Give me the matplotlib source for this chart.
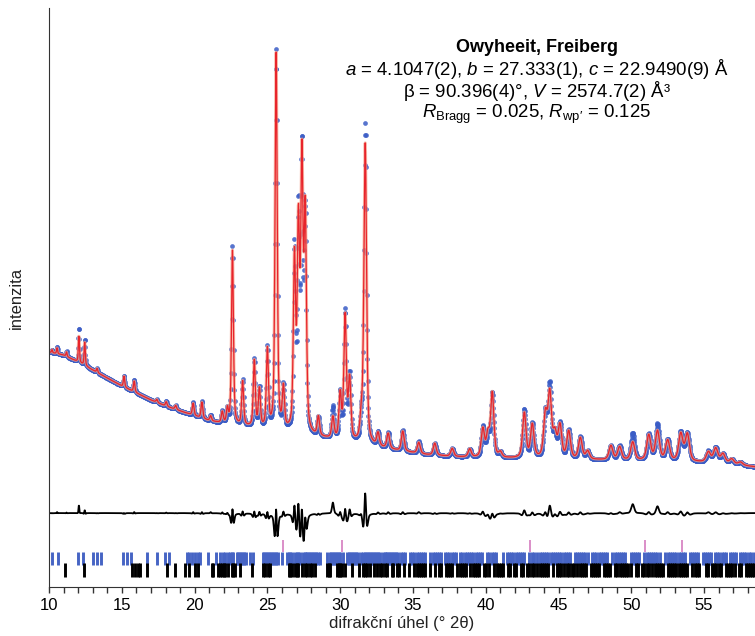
import numpy as np
import matplotlib
matplotlib.use("Agg")
import matplotlib.pyplot as plt
from matplotlib.ticker import MultipleLocator

plt.rcParams['font.family'] = ['Liberation Sans', 'DejaVu Sans']
plt.rcParams['mathtext.fontset'] = 'custom'
plt.rcParams['mathtext.rm'] = 'Liberation Sans'
plt.rcParams['mathtext.it'] = 'Liberation Sans:italic'
plt.rcParams['mathtext.bf'] = 'Liberation Sans:bold'

# background level (2theta, counts)
bg_tt = [10, 11, 12, 13, 14, 15, 16, 17, 18, 19, 20, 21, 22, 24, 26, 28, 30, 32,
         34, 36, 38, 40, 44, 48, 52, 56, 58.6]
bg_int = [2350, 2320, 2250, 2170, 2090, 2010, 1940, 1870, 1810, 1760, 1710, 1660,
          1630, 1590, 1550, 1500, 1460, 1410, 1360, 1320, 1300, 1290, 1280, 1270,
          1260, 1240, 1200]

# reflections: position, observed height, calculated height
peak_pos = [10.2, 10.55, 11.2, 12.05, 12.45, 13.3, 15.15, 15.85, 17.4, 18.05, 18.7,
            19.9, 20.5, 21.1, 21.9, 22.25, 22.6, 23.3, 24.1, 24.45, 25.0, 25.6,
            26.1, 26.86, 27.13, 27.37, 27.6, 28.5, 29.5, 30.0, 30.34, 30.65, 31.45,
            31.72, 32.6, 33.3, 34.3, 35.4, 36.5, 37.7, 38.9, 39.8, 40.15, 40.45,
            41.0, 42.65, 43.2, 44.1, 44.4, 44.75, 45.1, 45.7, 46.5, 47.0, 48.6,
            49.2, 50.1, 51.2, 51.8, 52.5, 53.4, 53.85, 55.3, 55.8, 56.3, 56.9, 57.5]
peak_obs = [30, 70, 50, 350, 270, 40, 110, 120, 30, 50, 40,
            130, 170, 60, 120, 150, 1780, 460, 680, 400, 800, 3800,
            430, 1800, 2150, 2750, 2150, 190, 320, 460, 1280, 650, 230,
            3200, 140, 160, 210, 120, 120, 80, 80, 300, 220, 640,
            50, 480, 340, 440, 720, 230, 340, 280, 220, 80, 140,
            140, 270, 260, 360, 210, 290, 280, 110, 150, 90, 50, 30]
peak_calc = [30, 60, 45, 270, 240, 40, 110, 110, 30, 45, 40,
             120, 160, 50, 110, 140, 1740, 440, 660, 380, 780, 3760,
             400, 1700, 2000, 2650, 2150, 190, 210, 440, 1230, 600, 210,
             3000, 130, 150, 200, 110, 120, 80, 80, 280, 220, 640,
             50, 450, 330, 420, 630, 230, 320, 270, 210, 80, 140,
             130, 180, 250, 290, 200, 270, 270, 100, 140, 90, 50, 30]

# phase reflection markers
pink_ticks = [26.1, 30.12, 43.06, 50.96, 53.48]
blue_ticks = [10.18, 10.6, 12.0, 12.36, 13.05, 13.28, 13.57, 15.1, 15.34, 15.63, 16.7,
              17.4, 17.97, 18.25, 19.46, 19.62, 19.8, 20.03, 20.2, 20.4, 20.95, 21.5,
              21.75, 21.95, 22.1, 22.3, 22.45, 22.55, 22.65, 22.9, 23.0, 23.1, 23.2,
              23.3, 23.4, 23.5, 23.8, 24.0, 24.7, 24.8, 24.9, 25.0, 25.1, 25.2, 25.3,
              25.4, 25.5, 25.6, 25.7, 26.0, 26.35, 26.45, 26.55, 26.7, 26.9, 27.0,
              27.1, 27.25, 27.45, 27.55, 27.65, 27.75, 27.85, 27.95, 28.05, 28.15,
              28.25, 28.35, 28.45, 28.6, 29.1, 29.3, 29.4, 29.5, 29.6, 29.7, 29.8,
              29.9, 30.0, 30.2, 30.5, 30.6, 30.7, 30.8, 30.9, 31.0, 31.1, 31.2, 31.4,
              31.6, 31.7, 31.8, 31.9, 32.0, 32.1, 32.2, 32.3, 32.4, 32.5, 32.6, 32.75,
              32.95, 33.05, 33.15, 33.25, 33.35, 33.45, 33.55, 33.65, 33.75, 33.85,
              33.95, 34.15, 34.3, 34.45, 34.8, 34.95, 35.1, 35.25, 35.4, 35.55, 35.7,
              35.85, 36.2, 36.35, 36.5, 36.65, 36.8, 36.95, 37.2, 37.35, 37.5, 37.65,
              37.8, 37.95, 38.25, 38.4, 38.55, 38.7, 38.85, 39.0, 39.15, 39.3, 39.45,
              39.6, 39.75, 40.1, 40.25, 40.4, 40.55, 40.7, 41.2, 41.45, 41.6, 41.75,
              41.9, 42.05, 42.2, 42.35, 42.5, 42.65, 43.0, 43.15, 43.3, 43.55, 43.7,
              43.85, 44.0, 44.15, 44.3, 44.45, 44.6, 44.75, 44.9, 45.05, 45.2, 45.35,
              45.5, 45.65, 45.8, 46.1, 46.25, 46.4, 46.55, 46.7, 46.85, 47.0, 47.3,
              47.45, 47.6, 47.75, 47.9, 48.05, 48.2, 48.35, 48.7, 48.85, 49.0, 49.15,
              49.3, 49.45, 49.6, 49.95, 50.1, 50.25, 50.4, 50.55, 50.9, 51.05, 51.2,
              51.35, 51.5, 51.65, 51.8, 51.95, 52.35, 52.5, 52.65, 52.8, 52.95, 53.1,
              53.25, 53.4, 53.55, 53.7, 54.0, 54.15, 54.3, 54.45, 54.6, 54.9, 55.05,
              55.2, 55.35, 55.5, 55.75, 55.9, 56.05, 56.2, 56.35, 56.5, 56.75, 56.9,
              57.05, 57.2, 57.45, 57.6, 57.75, 57.9, 58.1, 58.25, 58.4]
black_ticks = [11.1, 12.43, 15.73, 15.91, 16.1, 16.25, 16.7, 18.08, 18.66, 19.35,
               19.62, 20.03, 20.2, 21.18, 21.27, 21.64, 21.75, 21.87, 22.0, 22.1,
               22.32, 22.55, 22.65, 22.78, 23.1, 23.93, 24.7, 24.85, 25.07, 25.19,
               26.45, 26.55, 26.68, 26.9, 27.05, 27.13, 27.37, 27.6, 27.7, 27.94,
               28.05, 28.28, 29.08, 29.2, 29.31, 29.77, 29.9, 30.0, 30.1, 30.34,
               30.8, 31.26, 31.6, 31.7, 31.84, 32.06, 32.3, 32.5, 32.75, 32.9, 33.05,
               33.21, 33.55, 33.65, 33.9, 34.05, 34.4, 34.7, 35.1, 35.25, 35.4, 35.55,
               35.7, 35.85, 36.2, 36.5, 36.8, 36.95, 37.25, 37.4, 37.55, 37.7, 38.05,
               38.2, 38.35, 38.5, 38.65, 38.95, 39.1, 39.25, 39.4, 39.55, 39.9, 40.05,
               40.2, 40.6, 40.75, 40.9, 41.05, 41.2, 41.5, 41.65, 41.95, 42.1, 42.4,
               42.55, 42.85, 43.0, 43.15, 43.3, 43.55, 43.7, 43.85, 44.0, 44.15, 44.3,
               44.6, 44.9, 45.05, 45.2, 45.35, 45.6, 45.75, 45.9, 46.05, 46.3, 46.45,
               46.6, 46.75, 46.9, 47.2, 47.35, 47.5, 47.65, 47.8, 48.1, 48.25, 48.4,
               48.55, 48.9, 49.05, 49.2, 49.35, 49.5, 49.65, 49.8, 49.95, 50.3, 50.45,
               50.75, 50.9, 51.05, 51.2, 51.45, 51.6, 51.75, 51.9, 52.05, 52.2, 52.5,
               52.65, 52.8, 52.95, 53.1, 53.25, 53.4, 53.55, 53.7, 53.85, 54.2, 54.35,
               54.5, 54.65, 55.1, 55.25, 55.55, 55.7, 55.85, 56.0, 56.15, 56.5, 56.65,
               56.8, 56.95, 57.1, 57.4, 57.55, 57.85, 58.0, 58.15, 58.3, 58.45]

diff_offset = 740

tt = np.arange(10.0, 58.62, 0.02)


def fwhm(p):
    return 0.08 + 0.006 * (p - 10)


def pattern(heights, wscale):
    y = np.interp(tt, bg_tt, bg_int).astype(float)
    for p, h in zip(peak_pos, heights):
        w = fwhm(p) * wscale
        g = np.exp(-4 * np.log(2) * ((tt - p) / w) ** 2)
        l = 1 / (1 + 4 * ((tt - p) / w) ** 2)
        y += h * (0.5 * g + 0.5 * l)
    return y


obs = pattern(peak_obs, 0.9)
calc = pattern(peak_calc, 1.0)
diff = obs - calc

fig = plt.figure(figsize=(7.55, 6.36), dpi=100)
ax = fig.add_axes([0.065, 0.077, 0.935, 0.910])

ax.plot(tt, obs, 'o', ms=3.4, color='#3a5cc6', mec='none', alpha=0.85)
ax.plot(tt, calc, color='#f6a58f', lw=2.2, alpha=0.75)
ax.plot(tt, calc, color='#e8242b', lw=0.9)
ax.plot(tt, diff + diff_offset, color='black', lw=1.3)

ax.vlines(pink_ticks, 350, 470, color='#d886c4', lw=1.3)
ax.vlines(blue_ticks, 220, 350, color='#4664c4', lw=2.1)
ax.vlines(black_ticks, 100, 240, color='black', lw=2.1)

ax.set_xlim(10, 58.5)
ax.set_ylim(0, 5790)
ax.set_yticks([])
ax.spines['top'].set_visible(False)
ax.spines['right'].set_visible(False)
ax.spines['left'].set_color('#333333')
ax.spines['bottom'].set_color('#333333')
ax.xaxis.set_major_locator(MultipleLocator(5))
ax.xaxis.set_minor_locator(MultipleLocator(1))
ax.tick_params(axis='x', which='both', direction='out', length=4, width=1,
               color='#333333', labelsize=12, pad=4)
ax.set_xlabel('difrakční úhel (° 2θ)', fontsize=12, labelpad=2, color='#222222')
ax.set_ylabel('intenzita', fontsize=12, labelpad=18, color='#222222')

cx = 537 / 755
fig.text(cx, 1 - 52 / 636, 'Owyheeit, Freiberg', ha='center', va='baseline',
         fontsize=13, fontweight='bold')
fig.text(cx, 1 - 75 / 636, r'$a$ = 4.1047(2), $b$ = 27.333(1), $c$ = 22.9490(9) Å',
         ha='center', va='baseline', fontsize=13.4)
fig.text(cx, 1 - 97 / 636, r'β = 90.396(4)°, $V$ = 2574.7(2) Å³',
         ha='center', va='baseline', fontsize=13.4)
fig.text(cx, 1 - 118 / 636, r'$R_{\mathrm{Bragg}}$ = 0.025, $R_{\mathrm{wp}\prime}$ = 0.125',
         ha='center', va='baseline', fontsize=13.4)

fig.savefig('out.png', dpi=100)
